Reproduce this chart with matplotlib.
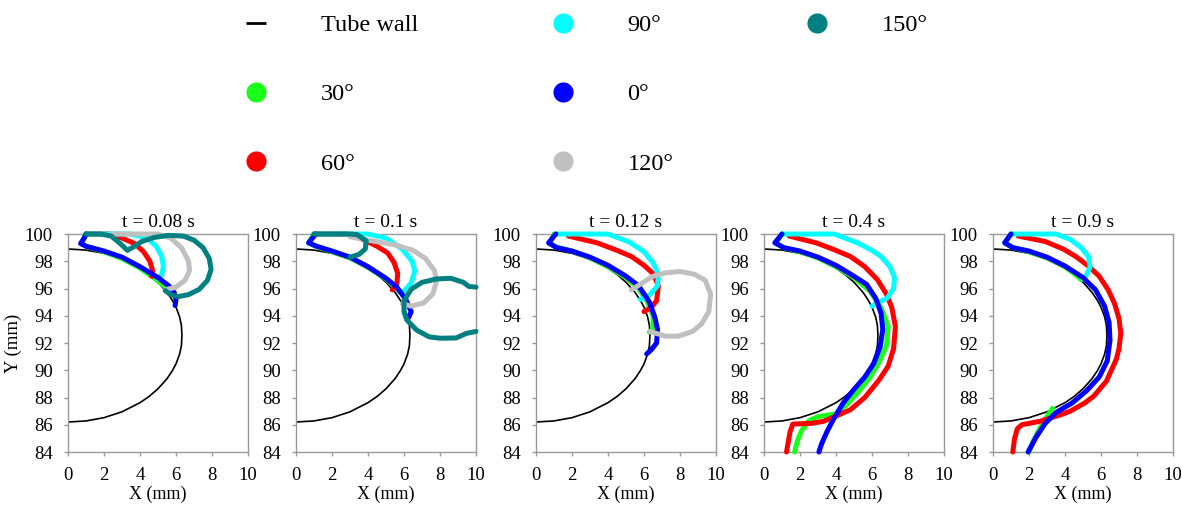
import matplotlib
matplotlib.use("Agg")
import matplotlib.pyplot as plt
from matplotlib.lines import Line2D

plt.rcParams["font.family"] = ["Liberation Serif", "DejaVu Serif"]

# ---- data (mm) ----
titles = ["t = 0.08 s", "t = 0.1 s", "t = 0.12 s", "t = 0.4 s", "t = 0.9 s"]
angle_labels = ["30°", "60°", "90°", "0°", "120°", "150°"]
angle_colors = ["#1aff1a", "#ff0000", "#00ffff", "#0000ff", "#c0c0c0", "#008080"]

wall = [(0, 98.9), (1, 98.82), (2, 98.58), (3, 98.15), (4, 97.48), (4.5, 97.03),
        (5, 96.46), (5.5, 95.72), (5.8, 95.13), (6.0, 94.63), (6.2, 93.92),
        (6.3, 93.3), (6.33, 92.55), (6.3, 91.8), (6.2, 91.18), (6.0, 90.47),
        (5.8, 89.97), (5.5, 89.38), (5.0, 88.64), (4.5, 88.07), (4.0, 87.62),
        (3.0, 86.95), (2.0, 86.52), (1.0, 86.28), (0, 86.2)]

# t = 0.08 s
p1_green = [(1.0, 100), (0.75, 99.35), (1.0, 99.1), (2, 98.7), (3, 98.2), (4, 97.5),
            (4.7, 96.85), (5.3, 96.25), (5.5, 95.95)]
p1_red = [(1.0, 100), (2.3, 100), (3.0, 99.7), (3.7, 99.3), (4.2, 98.7), (4.55, 98.0),
          (4.7, 97.3), (4.65, 96.9)]
p1_cyan = [(1.0, 100), (3.5, 100), (4.4, 99.7), (4.9, 99.1), (5.2, 98.4), (5.3, 97.6),
           (5.2, 97.0), (5.0, 96.7)]
p1_blue = [(1.0, 100), (0.9, 99.7), (0.7, 99.3), (1.0, 99.1), (2, 98.75), (3, 98.3),
           (4, 97.6), (5, 96.8), (5.6, 96.2), (5.9, 95.7), (6.0, 95.2), (5.95, 94.75)]
p1_grey = [(2.4, 100), (3.5, 100), (5.0, 100), (5.7, 99.7), (6.3, 99.0), (6.7, 98.0),
           (6.75, 97.3), (6.5, 96.6), (6.0, 96.1), (5.4, 95.9)]
p1_teal = [(1.0, 100), (1.8, 100), (2.4, 99.85), (2.9, 99.3), (3.3, 98.8), (3.7, 99.1),
           (4.1, 99.45), (4.8, 99.75), (5.6, 99.9), (6.4, 99.85), (7.0, 99.55),
           (7.5, 99.0), (7.85, 98.2), (7.95, 97.4), (7.75, 96.6), (7.3, 95.95),
           (6.7, 95.55), (6.1, 95.4), (5.7, 95.55), (5.4, 95.85)]

# t = 0.1 s
p2_green = [(1.0, 100), (0.7, 99.35), (1.1, 99.1), (2, 98.7), (3, 98.25), (4, 97.55),
            (5, 96.7), (5.5, 96.1), (5.8, 95.7)]
p2_red = [(1.0, 100), (2.8, 100), (3.4, 99.8), (4.5, 99.1), (5.1, 98.6), (5.45, 97.9),
          (5.65, 97.1), (5.6, 96.3), (5.35, 95.9)]
p2_cyan = [(1.0, 100), (4.0, 100), (5.0, 99.7), (5.9, 98.9), (6.45, 98.0), (6.6, 97.3),
           (6.4, 96.4), (6.0, 95.8)]
p2_blue = [(1.1, 100), (0.7, 99.35), (1.15, 99.1), (2, 98.75), (3, 98.3), (4, 97.6),
           (5, 96.75), (5.6, 96.1), (6.1, 95.2), (6.4, 94.3), (6.25, 93.85)]
p2_grey = [(3.0, 99.8), (4.0, 99.55), (5.5, 99.2), (6.5, 98.8), (7.2, 98.2), (7.7, 97.3),
           (7.8, 96.5), (7.6, 95.6), (7.1, 94.95), (6.4, 94.7), (5.9, 94.9)]
p2_teal = [(1.0, 100), (2.0, 100), (3.0, 100), (3.4, 99.95), (3.9, 99.5), (3.85, 98.9),
           (3.5, 98.5), (3.0, 98.3)]
p2_teal_b = [(10.0, 96.1), (9.6, 96.15), (9.3, 96.45), (8.6, 96.75), (7.8, 96.7),
             (7.0, 96.45), (6.4, 95.95), (6.0, 95.1), (6.0, 94.3), (6.15, 93.7),
             (6.7, 92.95), (7.4, 92.45), (8.0, 92.35), (8.9, 92.37), (9.45, 92.7),
             (10.0, 92.85)]

# t = 0.12 s
p3_green = [(1.0, 100), (0.75, 99.3), (1.1, 99.05), (2, 98.75), (3, 98.25), (4, 97.6),
            (5, 96.8), (5.7, 96.0), (6.2, 95.0), (6.5, 94.0), (6.5, 93.0), (6.3, 92.8)]
p3_red = [(1.8, 99.85), (3.4, 99.35), (4.5, 98.8), (5.3, 98.35), (6.0, 97.7), (6.5, 97.1),
          (6.8, 96.2), (6.7, 95.1), (6.4, 94.6), (6.0, 94.3)]
p3_cyan = [(1.1, 100), (4.0, 100), (5.2, 99.4), (6.0, 98.7), (6.5, 97.9), (6.8, 97.0),
           (6.75, 96.2), (6.3, 95.5), (5.8, 95.2)]
p3_blue = [(1.1, 100), (0.7, 99.35), (1.15, 99.0), (2, 98.75), (3, 98.3), (4, 97.7),
           (5, 96.9), (5.7, 96.2), (6.3, 95.0), (6.6, 93.9), (6.75, 93.0), (6.7, 92.0),
           (6.4, 91.5), (6.15, 91.2)]
p3_grey = [(5.3, 95.9), (5.9, 96.4), (6.5, 96.9), (7.2, 97.15), (8.0, 97.25), (8.8, 97.05),
           (9.4, 96.6), (9.7, 95.6), (9.6, 94.3), (9.2, 93.4), (8.7, 92.85), (7.9, 92.5),
           (7.2, 92.5), (6.7, 92.7), (6.35, 92.85)]

# t = 0.4 s
p4_green = [(1.0, 100), (0.65, 99.35), (1.1, 99.0), (2, 98.7), (3, 98.25), (4, 97.6),
            (5, 96.8), (5.9, 95.8), (6.5, 94.6), (6.9, 93.2), (6.8, 91.8), (6.4, 90.6),
            (5.9, 89.5), (5.3, 88.5), (4.6, 87.5), (4.0, 86.8), (3.0, 86.6), (2.5, 86.3),
            (2.1, 85.6), (1.85, 84.8), (1.7, 84.0)]
p4_red = [(1.4, 99.85), (2.9, 99.35), (3.9, 98.85), (4.8, 98.35), (5.6, 97.6), (6.3, 96.65),
          (6.8, 95.6), (7.1, 94.6), (7.3, 93.2), (7.2, 91.6), (6.9, 90.3), (6.4, 89.3),
          (5.6, 88.0), (4.8, 87.1), (4.2, 86.75), (3.3, 86.25), (2.6, 86.1), (1.6, 86.05),
          (1.45, 85.5), (1.25, 84.0)]
p4_cyan = [(1.0, 100), (3.9, 100), (5.2, 99.35), (6.0, 98.8), (6.5, 98.35), (7.0, 97.6),
           (7.25, 96.8), (7.2, 96.0), (6.85, 95.3), (6.4, 95.0), (6.0, 94.7)]
p4_blue = [(1.0, 100), (0.6, 99.35), (1.1, 99.0), (2, 98.75), (3, 98.3), (4, 97.7),
           (5, 96.9), (5.7, 96.3), (6.2, 95.3), (6.5, 94.2), (6.6, 93.0), (6.45, 91.7),
           (6.1, 90.5), (5.6, 89.5), (5.0, 88.6), (4.4, 87.6), (3.9, 86.5), (3.5, 85.5),
           (3.2, 84.6), (3.05, 84.0)]

# t = 0.9 s
p5_green = [(1.0, 100), (0.65, 99.35), (1.1, 99.0), (2, 98.7), (3, 98.25), (4, 97.6),
            (4.6, 97.0), (4.9, 96.65)]
p5_green_b = [(3.3, 87.2), (2.9, 86.4), (2.5, 85.5), (2.2, 84.7), (2.0, 84.0)]
p5_red = [(1.4, 99.85), (2.9, 99.45), (3.9, 98.9), (4.6, 98.35), (5.3, 97.65), (5.9, 96.9),
          (6.4, 95.9), (6.75, 94.9), (7.0, 93.8), (7.1, 92.7), (7.0, 91.6), (6.85, 90.8),
          (6.3, 89.2), (5.6, 88.1), (5.1, 87.6), (4.3, 87.0), (3.8, 86.75), (2.6, 86.25),
          (1.6, 86.0), (1.35, 85.7), (1.2, 85.0), (1.1, 84.0)]
p5_cyan = [(1.0, 100), (3.5, 100), (4.3, 99.6), (4.9, 99.0), (5.3, 98.35), (5.4, 97.6),
           (5.2, 97.0), (5.0, 96.7)]
p5_blue = [(1.0, 100), (0.65, 99.35), (1.1, 99.0), (2, 98.75), (3, 98.3), (4, 97.65),
           (5, 96.8), (5.7, 95.9), (6.2, 94.7), (6.45, 93.5), (6.5, 92.2), (6.35, 90.7),
           (5.9, 89.5), (5.2, 88.5), (4.4, 87.6), (3.5, 86.9), (2.9, 86.1), (2.4, 85.1),
           (1.95, 84.0)]

# per panel: list of (curve, colour index) in drawing order
panels = [
    [(p1_green, 0), (p1_red, 1), (p1_cyan, 2), (p1_blue, 3), (p1_grey, 4), (p1_teal, 5)],
    [(p2_green, 0), (p2_red, 1), (p2_cyan, 2), (p2_blue, 3), (p2_grey, 4), (p2_teal, 5),
     (p2_teal_b, 5)],
    [(p3_green, 0), (p3_red, 1), (p3_cyan, 2), (p3_blue, 3), (p3_grey, 4)],
    [(p4_green, 0), (p4_red, 1), (p4_cyan, 2), (p4_blue, 3)],
    [(p5_green, 0), (p5_green_b, 0), (p5_red, 1), (p5_cyan, 2), (p5_blue, 3)],
]

# ---- figure ----
W, H = 1182, 511
fig = plt.figure(figsize=(W / 100, H / 100), dpi=100)
lefts_px = [68, 296, 536, 764, 993]
spine_col = "#9a9a9a"

for i, (left, curves) in enumerate(zip(lefts_px, panels)):
    ax = fig.add_axes([left / W, 59 / H, 180 / W, 218 / H])
    wx, wy = zip(*wall)
    ax.plot(wx, wy, color="black", lw=1.2, zorder=2)
    for pts, ci in curves:
        xs, ys = zip(*pts)
        ax.plot(xs, ys, color=angle_colors[ci], lw=3.6, solid_capstyle="round",
                solid_joinstyle="round", clip_on=False, zorder=3)
    ax.set_xlim(0, 10)
    ax.set_ylim(84, 100)
    ax.set_xticks(range(0, 11, 2))
    ax.set_yticks(range(84, 101, 2))
    for s in ax.spines.values():
        s.set_color(spine_col)
        s.set_linewidth(1.0)
    ax.tick_params(direction="out", length=3, width=1, color=spine_col,
                   labelsize=13.5, pad=8)
    ax.set_title(titles[i], fontsize=14, pad=5)
    ax.set_xlabel("X (mm)", fontsize=13, labelpad=1)
    if i == 0:
        ax.set_ylabel("Y (mm)", fontsize=13.5, labelpad=2)

# legend: three columns filled top-down (3, 3, 1 entries)
wall_handle = Line2D([], [], color="black", marker="_", linestyle="None",
                     markersize=15, markeredgewidth=2)
dot_handles = [Line2D([], [], color=c, marker="o", linestyle="None",
                      markersize=14.5, markeredgewidth=0) for c in angle_colors]
all_handles = [wall_handle] + dot_handles
all_labels = ["Tube wall"] + angle_labels
col_left_px = [244, 551, 805]
for k, left in enumerate(col_left_px):
    fig.legend(all_handles[3 * k:3 * k + 3], all_labels[3 * k:3 * k + 3],
               loc="upper left", bbox_to_anchor=(left / W, 1 - 14 / H), ncol=1,
               frameon=False, fontsize=17.5, handlelength=1.0, handletextpad=2.15,
               labelspacing=1.95, borderpad=0, borderaxespad=0)

fig.savefig("out.png", dpi=100)
